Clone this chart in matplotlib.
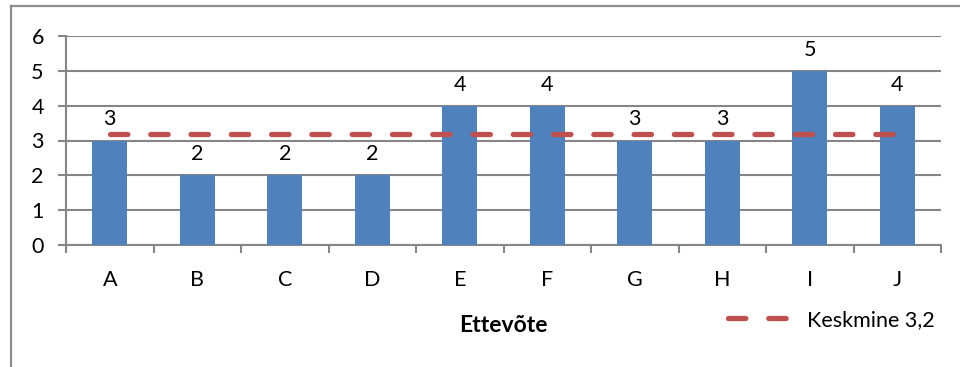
import matplotlib
matplotlib.use("Agg")
import matplotlib.pyplot as plt
from matplotlib.lines import Line2D
import numpy as np

categories = ["A", "B", "C", "D", "E", "F", "G", "H", "I", "J"]
values = [3, 2, 2, 2, 4, 4, 3, 3, 5, 4]
mean_value = 3.2
mean_label = "Keskmine 3,2"
x_title = "Ettevõte"

plt.rcParams["font.family"] = ["Lato", "DejaVu Sans"]
plt.rcParams["lines.scale_dashes"] = False

W, H, DPI = 960, 367, 100
fig = plt.figure(figsize=(W / DPI, H / DPI), dpi=DPI)

# plot area in pixel coordinates
left, right, top, bottom = 66, 941, 36, 245
ax = fig.add_axes([left / W, 1 - bottom / H, (right - left) / W, (bottom - top) / H])

bar_color = "#4F81BD"
line_color = "#C0504D"
grid_color = "#868686"

x = np.arange(len(categories))
ax.bar(x, values, width=0.4, color=bar_color, zorder=3)

for xi, v in zip(x, values):
    ax.annotate(str(v), (xi, v), xytext=(0, 8), textcoords="offset points",
                ha="center", va="bottom", fontsize=15.5, color="black", zorder=5)

ax.plot(x, [mean_value] * len(x), color=line_color, lw=3.8,
        dashes=(12.5, 16.5), dash_capstyle="round", zorder=4, label=mean_label)

ax.set_xlim(-0.5, len(categories) - 0.5)
ax.set_ylim(0, 6)
ax.set_yticks(range(0, 7))
ax.yaxis.grid(True, color=grid_color, lw=1.5, zorder=0)
ax.set_axisbelow(True)

ax.set_xticks(np.arange(-0.5, len(categories), 1.0))
ax.set_xticklabels([])
ax.set_xticks(x, minor=True)
ax.set_xticklabels(categories, minor=True)
ax.tick_params(axis="x", which="major", length=6, width=1.5, color=grid_color, direction="out")
ax.tick_params(axis="x", which="minor", length=0, pad=18, labelsize=15.5)
ax.tick_params(axis="y", length=6, width=1.5, color=grid_color, labelsize=15.5, pad=10)

for s in ["top", "right"]:
    ax.spines[s].set_visible(False)
for s in ["left", "bottom"]:
    ax.spines[s].set_color(grid_color)
    ax.spines[s].set_linewidth(1.5)

fig.text(503 / W, 1 - 325 / H, x_title, ha="center", va="center",
         fontsize=16.5, fontweight="bold")

leg = fig.legend(loc="center left", bbox_to_anchor=(728 / W, 1 - 320 / H),
                 frameon=False, fontsize=15.5, handlelength=2.9, handletextpad=0.75,
                 borderaxespad=0, borderpad=0)

# outer chart border (left and top edges)
border = "#8C8C8C"
fig.add_artist(Line2D([10.5 / W, 10.5 / W], [0, 1 - 5.5 / H], transform=fig.transFigure,
                      color=border, lw=1.6))
fig.add_artist(Line2D([10.5 / W, 1], [1 - 5.5 / H, 1 - 5.5 / H], transform=fig.transFigure,
                      color=border, lw=1.6))

fig.savefig("out.png", dpi=DPI)
